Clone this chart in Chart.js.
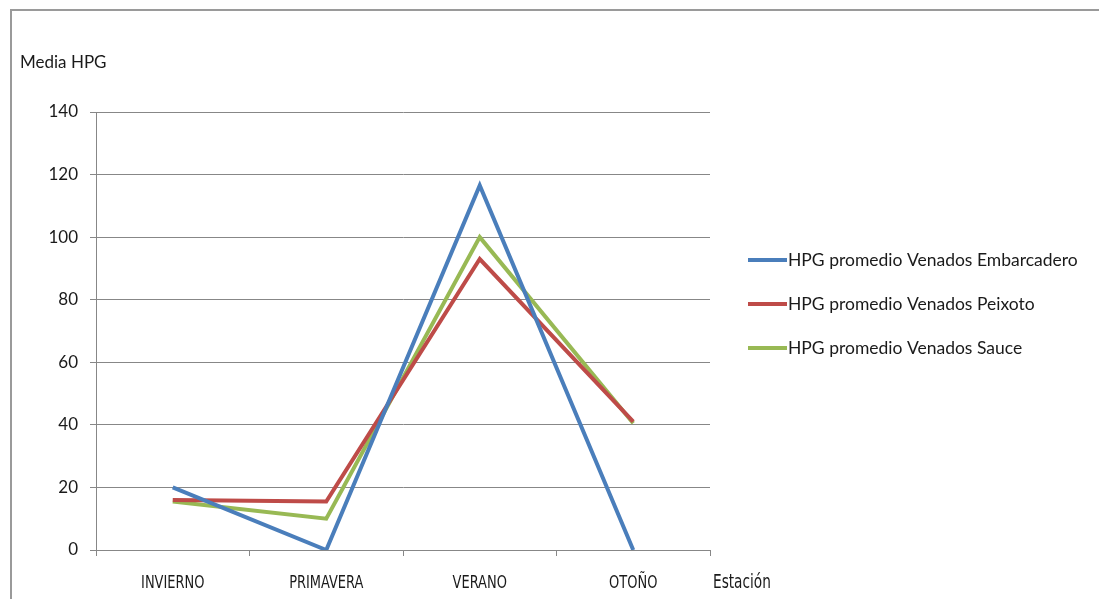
<!DOCTYPE html>
<html>
<head>
<meta charset="utf-8">
<script src="https://cdn.jsdelivr.net/npm/chart.js@4/dist/chart.umd.min.js"></script>
<style>
  html, body { margin: 0; padding: 0; background: #ffffff; }
  #wrap { width: 1099px; height: 599px; }
</style>
</head>
<body>
<div id="wrap"><canvas id="chart" width="1099" height="599"></canvas></div>
<script>
// Estaciones del año (eje de categorías)
const estaciones = ['INVIERNO', 'PRIMAVERA', 'VERANO', 'OTOÑO'];

// Media HPG por estación para cada sitio
const embarcadero = [20, 0, 116.5, 0];
const peixoto = [16, 15.5, 93, 41];
const sauce = [15.5, 10, 100, 40.5];

// Etiquetas de la leyenda
const nombres = [
  'HPG promedio Venados Embarcadero',
  'HPG promedio Venados Peixoto',
  'HPG promedio Venados Sauce'
];

// Eje vertical
const yMin = 0, yMax = 140, yPaso = 20;

const colores = ['#4a7ebb', '#be4b48', '#98b954'];
const gris = '#878787';
const tinta = '#1a1a1a';
const fuente = 'Lato, "Open Sans", sans-serif';
const fuenteEstrecha = '"Liberation Sans Narrow", "DejaVu Sans Condensed", sans-serif';

const series = [embarcadero, peixoto, sauce];

// Texto comprimido horizontalmente (rótulos estrechos)
function textoEstrecho(ctx, texto, x, y, escala, alinear) {
  ctx.save();
  ctx.translate(x, y);
  ctx.scale(escala, 1);
  ctx.textAlign = alinear;
  ctx.fillText(texto, 0, 0);
  ctx.restore();
}

// Marco exterior, rótulos de ejes y leyenda propia
const decoracion = {
  id: 'decoracion',
  beforeDraw(chart) {
    const ctx = chart.ctx;
    ctx.save();
    ctx.fillStyle = '#ffffff';
    ctx.fillRect(0, 0, chart.width, chart.height);
    ctx.strokeStyle = '#9a9a9a';
    ctx.lineWidth = 2;
    ctx.strokeRect(11, 10, chart.width + 20, chart.height + 20);
    ctx.restore();
  },
  afterDraw(chart) {
    const ctx = chart.ctx;
    const area = chart.chartArea;
    const xs = chart.scales.x;
    ctx.save();
    ctx.fillStyle = tinta;
    ctx.textBaseline = 'middle';
    ctx.textAlign = 'left';
    ctx.font = '17px ' + fuente;
    ctx.fillText('Media HPG', 20, 63);

    // Rótulos de categoría y título del eje X
    ctx.font = '18.5px ' + fuenteEstrecha;
    chart.data.labels.forEach((lab, i) => {
      textoEstrecho(ctx, lab, xs.getPixelForTick(i), 583, 0.78, 'center');
    });
    ctx.font = '19px ' + fuenteEstrecha;
    textoEstrecho(ctx, 'Estación', area.right + 3, 583, 0.8, 'left');

    // Leyenda
    const x0 = area.right + 38;
    const filas = [260, 304, 348];
    chart.data.datasets.forEach((ds, i) => {
      const y = filas[i];
      ctx.strokeStyle = ds.borderColor;
      ctx.lineWidth = 4;
      ctx.beginPath();
      ctx.moveTo(x0, y);
      ctx.lineTo(x0 + 39, y);
      ctx.stroke();
      ctx.fillStyle = tinta;
      ctx.font = '17.5px ' + fuente;
      ctx.fillText(ds.label, x0 + 40, y);
    });
    ctx.restore();
  }
};

new Chart(document.getElementById('chart'), {
  type: 'line',
  data: {
    labels: estaciones,
    datasets: series.map((vals, i) => ({
      label: nombres[i],
      data: vals,
      borderColor: colores[i],
      backgroundColor: colores[i],
      borderWidth: 4,
      pointRadius: 0,
      pointHoverRadius: 0,
      tension: 0,
      fill: false
    }))
  },
  options: {
    responsive: false,
    animation: false,
    events: [],
    layout: { padding: { left: 0, top: 112, right: 389, bottom: 0 } },
    plugins: {
      legend: { display: false },
      tooltip: { enabled: false },
      title: { display: false }
    },
    scales: {
      x: {
        type: 'category',
        offset: true,
        afterFit(scale) { scale.height = 49; },
        grid: {
          offset: true,
          drawOnChartArea: false,
          drawTicks: true,
          tickLength: 6,
          color: gris,
          lineWidth: 1
        },
        border: { display: true, color: gris, width: 1 },
        ticks: { display: false }
      },
      y: {
        min: yMin,
        max: yMax,
        afterFit(scale) { scale.width = 96; },
        grid: {
          color: gris,
          lineWidth: 1,
          drawTicks: true,
          tickLength: 6
        },
        border: { display: true, color: gris, width: 1 },
        ticks: {
          stepSize: yPaso,
          color: tinta,
          padding: 12,
          font: { family: fuente, size: 17 }
        }
      }
    }
  },
  plugins: [decoracion]
});
</script>
</body>
</html>
